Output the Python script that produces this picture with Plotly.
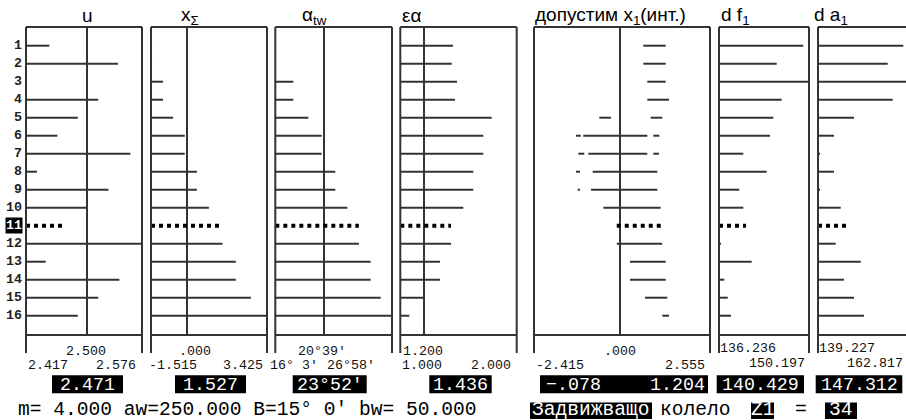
import plotly.graph_objects as go

W, H = 906, 420

# ---------------- data ----------------
rows = list(range(1, 17))
sel_row = 11

u_vals = [2.449, 2.543, 2.418, 2.516, 2.488, 2.460, 2.560, 2.432, 2.530, 2.500,
          2.471, 2.576, 2.444, 2.545, 2.516, 2.488]
xs_vals = [-1.47, -1.47, -1.001, -1.001, -0.572, -0.075, -0.075, 0.439, 0.439, 0.953,
           1.527, 1.527, 2.097, 2.097, 2.739, 3.425]
atw_vals = [16.11, 16.11, 17.73, 17.73, 19.14, 20.39, 20.39, 21.66, 21.66, 22.79,
            23.867, 23.867, 24.97, 24.97, 25.91, 26.967]
ea_vals = [1.453, 1.442, 1.487, 1.470, 1.785, 1.713, 1.713, 1.627, 1.627, 1.541,
           1.436, 1.436, 1.341, 1.341, 1.204, 1.077]
x1_intervals = [
    [(0.672, 1.304)],
    [(0.672, 1.304)],
    [(0.785, 1.304)],
    [(0.785, 1.397)],
    [(-0.571, -0.241), (0.881, 1.208)],
    [(-1.229, -1.096), (-1.023, 0.785), (0.954, 1.124)],
    [(-1.164, -0.995), (-0.882, 0.785), (0.954, 1.115)],
    [(-1.229, -1.116), (-0.757, 1.067)],
    [(-1.181, -1.116), (-0.805, 1.067)],
    [(-0.458, 1.163)],
    [(-0.078, 1.204)],
    [(-0.078, 1.204)],
    [(0.296, 1.304)],
    [(0.296, 1.304)],
    [(0.720, 1.349)],
    [(1.208, 1.397)],
]
df1_vals = [149.31, 145.19, 150.197, 145.96, 144.66, 144.15, 140.01, 143.64, 139.39, 140.01,
            140.429, 136.55, 141.31, 137.06, 137.59, 138.10]
da1_vals = [161.59, 157.50, 162.817, 158.81, 148.66, 143.42, 139.75, 143.42, 139.75, 145.18,
            147.312, 143.87, 150.42, 146.04, 148.66, 151.28]

titles = ["u", "x<sub>Σ</sub>", "α<sub>tw</sub>", "εα", "допустим x<sub>1</sub>(инт.)",
          "d f<sub>1</sub>", "d a<sub>1</sub>"]
axis_lo = [2.417, -1.515, 16.05, 1.000, -2.415, 136.236, 139.227]
axis_mid = [2.500, 0.000, 20.65, 1.200, 0.000, None, None]
axis_hi = [2.576, 3.425, 26.9667, 2.000, 2.555, 150.197, 162.817]
lo_labels = ["2.417", "-1.515", "16° 3′", "1.000", "-2.415", "136.236", "139.227"]
mid_labels = ["2.500", ".000", "20°39′", "1.200", ".000", None, None]
hi_labels = ["2.576", "3.425", "26°58′", "2.000", "2.555", "150.197", "162.817"]
sel_labels = ["2.471", "1.527", "23°52′", "1.436", ("−.078", "1.204"), "140.429", "147.312"]

info_text = "m= 4.000 aw=250.000 B=15° 0′ bw= 50.000"
wheel_word = "Задвижващо"
wheel_word2 = "колело"
z_label = "Z1"
z_value = "34"

series = [u_vals, xs_vals, atw_vals, ea_vals, None, df1_vals, da1_vals]

# ---------------- layout geometry (pixels) ----------------
panel_px = [(26, 142), (151, 267), (275.3, 392), (400.3, 516.7), (534, 710), (719, 809), (818, 908)]
top_px, base_px, ext_px = 27, 335, 353
title_px = [(87, "center"), (179, "left"), (300, "left"), (400, "left"), (533, "left"),
            (719, "left"), (812, "left")]
lo_lab_px = [26, 147, 268, 400, 534, 718, 817]
hi_lab_px = [138, 265, 377, 513, 707, 807, 905]
mid_lab_px = [86, 195, 322, 423, 620, None, None]
box_px = [(52, 123), (175, 246), (292.7, 366.7), (429.3, 491.7), (540, 708), (716.7, 804), (815.7, 902.3)]

LINE = "#333333"
MONO = "Liberation Mono, DejaVu Sans Mono, monospace"
SANS = "Liberation Sans, Arial, sans-serif"


def px(x):
    return x / W


def py(y):
    return 1 - y / H


ydom = [py(base_px), py(top_px)]
row_top = 1 - (45.7 - top_px) / 18.0
row_bot = 16 + (base_px - 315.7) / 18.0

fig = go.Figure()
layout = dict(width=W, height=H, margin=dict(l=0, r=0, t=0, b=0),
              paper_bgcolor="white", plot_bgcolor="white", showlegend=False)
shapes, annos = [], []

for i in range(7):
    n = i + 1
    xname = "x" if n == 1 else f"x{n}"
    yname = "y" if n == 1 else f"y{n}"
    x0p, x1p = panel_px[i]
    lo, hi, mid = axis_lo[i], axis_hi[i], axis_mid[i]
    vis_x1 = min(x1p, W)
    rng_hi = lo + (hi - lo) * (vis_x1 - x0p) / (x1p - x0p)
    layout["xaxis" if n == 1 else f"xaxis{n}"] = dict(
        domain=[px(x0p), px(vis_x1)], range=[lo, rng_hi], anchor=yname,
        showline=False, zeroline=False, showticklabels=False, ticks="",
        showgrid=mid is not None, tickvals=[mid] if mid is not None else [],
        gridcolor=LINE, gridwidth=2, fixedrange=True)
    layout["yaxis" if n == 1 else f"yaxis{n}"] = dict(
        domain=ydom, range=[row_bot, row_top], anchor=xname,
        showline=False, zeroline=False, showticklabels=False, ticks="",
        showgrid=False, fixedrange=True)

    dref = f"{xname} domain"
    shapes.append(dict(type="line", xref=dref, yref="paper", x0=0, x1=1,
                       y0=py(top_px), y1=py(top_px), line=dict(color=LINE, width=2)))
    shapes.append(dict(type="line", xref=dref, yref="paper", x0=0, x1=1,
                       y0=py(base_px), y1=py(base_px), line=dict(color=LINE, width=2)))
    sides = [0] if n == 7 else [0, 1]
    for s in sides:
        shapes.append(dict(type="line", xref=dref, yref="paper", x0=s, x1=s,
                           y0=py(top_px), y1=py(ext_px), line=dict(color=LINE, width=2)))

    bx, by, sx, sy = [], [], [], []
    for r in rows:
        if i == 4:
            segs = x1_intervals[r - 1]
        else:
            segs = [(lo, series[i][r - 1])]
        for a, b in segs:
            if r == sel_row:
                sx += [a, b, None]
                sy += [r, r, None]
            else:
                bx += [a, b, None]
                by += [r, r, None]
    fig.add_trace(go.Scatter(x=bx, y=by, mode="lines", xaxis=xname, yaxis=yname,
                             line=dict(color=LINE, width=2), hoverinfo="skip"))
    fig.add_trace(go.Scatter(x=sx, y=sy, mode="lines", xaxis=xname, yaxis=yname,
                             line=dict(color="black", width=4, dash="4px,4px"),
                             hoverinfo="skip"))

    tx, anc = title_px[i]
    annos.append(dict(text=titles[i], x=px(tx), y=py(16), xref="paper", yref="paper",
                      xanchor=anc, yanchor="middle", showarrow=False,
                      font=dict(family=SANS, size=19, color="black")))

    if i < 5:
        annos.append(dict(text=mid_labels[i], x=px(mid_lab_px[i]), y=py(351), xref="paper",
                          yref="paper", xanchor="center", yanchor="middle", showarrow=False,
                          font=dict(family=MONO, size=13.3, color="#111")))
        ylo = 365
    else:
        ylo = 348.5
    annos.append(dict(text=lo_labels[i], x=px(lo_lab_px[i]), y=py(ylo), xref="paper",
                      yref="paper", xanchor="left", yanchor="middle", showarrow=False,
                      font=dict(family=MONO, size=13.3, color="#111")))
    annos.append(dict(text=hi_labels[i], x=px(hi_lab_px[i]), y=py(ylo if i < 5 else 363.5),
                      xref="paper", yref="paper", xanchor="right", yanchor="middle",
                      showarrow=False, font=dict(family=MONO, size=13.3, color="#111")))

    b0, b1 = box_px[i]
    shapes.append(dict(type="rect", xref="paper", yref="paper", x0=px(b0), x1=px(b1),
                       y0=py(393.3), y1=py(375.3), fillcolor="black", line=dict(width=0)))
    if isinstance(sel_labels[i], tuple):
        annos.append(dict(text=sel_labels[i][0], x=px(b0 + 4), y=py(384.5), xref="paper",
                          yref="paper", xanchor="left", yanchor="middle", showarrow=False,
                          font=dict(family=MONO, size=18.3, color="white")))
        annos.append(dict(text=sel_labels[i][1], x=px(b1 - 1), y=py(384.5), xref="paper",
                          yref="paper", xanchor="right", yanchor="middle", showarrow=False,
                          font=dict(family=MONO, size=18.3, color="white")))
    else:
        annos.append(dict(text=sel_labels[i], x=px((b0 + b1) / 2), y=py(384.5), xref="paper",
                          yref="paper", xanchor="center", yanchor="middle", showarrow=False,
                          font=dict(family=MONO, size=18.3, color="white")))

for r in rows:
    sel = r == sel_row
    a = dict(text=f"<b>{r}</b>", x=px(23), y=r, xref="paper", yref="y",
             xanchor="right", yanchor="middle", showarrow=False, borderpad=0,
             font=dict(family=MONO, size=13.3, color="white" if sel else "#222"))
    if sel:
        a["bgcolor"] = "black"
    annos.append(a)

annos.append(dict(text=info_text, x=px(16), y=py(410), xref="paper", yref="paper",
                  xanchor="left", yanchor="middle", showarrow=False,
                  font=dict(family=MONO, size=19.6, color="black")))
for (t, x0b, x1b, boxed) in [(wheel_word, 530, 652, True), (wheel_word2, 658, None, False),
                             (z_label, 751, 774, True), ("=", 793, None, False),
                             (z_value, 825, 857, True)]:
    if boxed:
        shapes.append(dict(type="rect", xref="paper", yref="paper", x0=px(x0b), x1=px(x1b),
                           y0=py(419), y1=py(402.5), fillcolor="black", line=dict(width=0)))
        annos.append(dict(text=t, x=px((x0b + x1b) / 2), y=py(410), xref="paper",
                          yref="paper", xanchor="center", yanchor="middle", showarrow=False,
                          font=dict(family=MONO, size=19.6, color="white")))
    else:
        annos.append(dict(text=t, x=px(x0b), y=py(410), xref="paper", yref="paper",
                          xanchor="left", yanchor="middle", showarrow=False,
                          font=dict(family=MONO, size=19.6, color="black")))

layout["shapes"] = shapes
layout["annotations"] = annos
fig.update_layout(**layout)
fig.write_html("out.html", config={"displayModeBar": False},
               post_script="document.body.style.margin='0px';document.body.style.overflow='hidden';")
